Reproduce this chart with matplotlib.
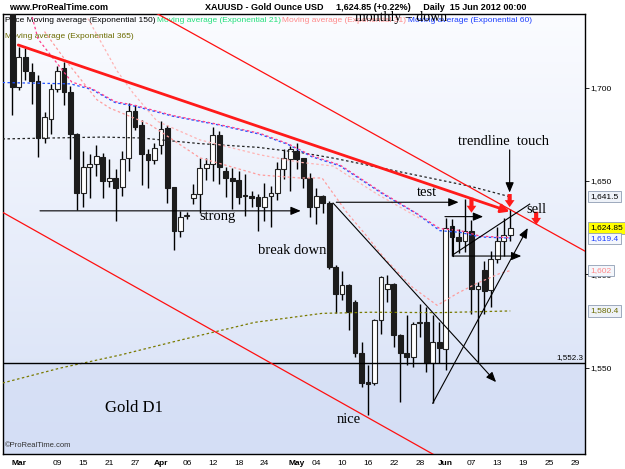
import numpy as np
import pandas as pd
import matplotlib
matplotlib.use("Agg")
import matplotlib.pyplot as plt
from matplotlib.colors import LinearSegmentedColormap

# ---------------- data ----------------
start_date = "2012-02-29"
opens  = [1785.0, 1700.2, 1716.6, 1708.2, 1703.3, 1673.1, 1683.4, 1699.4, 1710.7, 1697.9,
          1674.9, 1643.8, 1657.5, 1658.9, 1663.0, 1650.0, 1651.8, 1646.5, 1662.1, 1687.7,
          1680.2, 1664.2, 1661.0, 1669.2, 1678.4, 1646.8, 1623.4, 1631.2, 1640.8, 1642.9,
          1657.1, 1658.9, 1674.5, 1655.3, 1651.4, 1650.4, 1642.3, 1642.0, 1641.5, 1636.2,
          1642.0, 1643.3, 1656.2, 1661.6, 1666.3, 1662.1, 1651.8, 1635.8, 1642.0, 1638.0,
          1603.8, 1589.3, 1594.1, 1585.2, 1558.0, 1542.2, 1541.7, 1575.4, 1592.3, 1594.6,
          1567.4, 1558.0, 1555.9, 1573.7, 1574.5, 1552.7, 1563.9, 1559.8, 1626.0, 1619.8,
          1617.7, 1623.0, 1592.3, 1602.4, 1591.4, 1608.3, 1617.7, 1621.2]
highs  = [1790.0, 1721.9, 1721.4, 1713.0, 1706.8, 1686.8, 1701.8, 1711.3, 1713.9, 1700.6,
          1675.5, 1666.3, 1664.5, 1669.0, 1664.8, 1661.5, 1656.2, 1666.0, 1691.7, 1690.8,
          1682.9, 1667.0, 1670.4, 1682.0, 1680.2, 1647.0, 1633.7, 1633.5, 1648.2, 1662.4,
          1662.4, 1678.8, 1676.6, 1657.5, 1656.8, 1655.3, 1653.6, 1644.7, 1643.0, 1649.1,
          1647.3, 1660.3, 1666.9, 1668.6, 1670.4, 1662.5, 1654.4, 1646.4, 1642.5, 1639.3,
          1605.2, 1602.0, 1595.0, 1586.0, 1563.9, 1551.4, 1576.0, 1599.0, 1599.4, 1595.5,
          1568.0, 1578.2, 1574.5, 1584.3, 1582.5, 1578.1, 1574.5, 1630.4, 1629.6, 1624.4,
          1640.2, 1629.0, 1595.8, 1607.4, 1612.7, 1625.1, 1630.4, 1635.0]
lows   = [1685.5, 1698.9, 1704.2, 1691.4, 1662.8, 1670.4, 1675.2, 1697.5, 1690.8, 1661.6,
          1634.4, 1636.1, 1641.1, 1652.7, 1641.1, 1646.5, 1628.7, 1642.0, 1655.3, 1677.5,
          1648.0, 1646.4, 1658.9, 1664.2, 1638.4, 1613.0, 1619.8, 1629.5, 1637.6, 1633.1,
          1650.3, 1650.0, 1648.2, 1641.5, 1634.9, 1637.9, 1631.4, 1635.8, 1623.4, 1628.7,
          1625.1, 1640.0, 1650.9, 1644.7, 1656.2, 1646.4, 1630.8, 1626.9, 1632.6, 1603.0,
          1579.3, 1586.1, 1570.1, 1555.9, 1539.9, 1524.8, 1541.0, 1568.3, 1585.2, 1561.2,
          1531.9, 1551.4, 1550.5, 1566.5, 1547.9, 1531.0, 1552.3, 1548.8, 1610.0, 1611.6,
          1612.0, 1579.0, 1553.2, 1579.0, 1582.5, 1605.9, 1610.0, 1618.0]
closes = [1700.2, 1716.6, 1709.0, 1703.3, 1673.1, 1684.1, 1699.4, 1709.0, 1697.9, 1674.9,
          1643.8, 1657.5, 1659.2, 1663.1, 1650.0, 1651.8, 1646.1, 1661.6, 1687.7, 1679.1,
          1664.2, 1661.0, 1667.4, 1678.0, 1646.4, 1623.4, 1630.8, 1631.6, 1642.9, 1657.0,
          1659.2, 1674.5, 1657.5, 1651.4, 1650.0, 1641.5, 1641.8, 1641.0, 1636.7, 1641.5,
          1643.8, 1656.2, 1662.4, 1666.9, 1661.6, 1651.8, 1635.8, 1642.0, 1638.4, 1603.8,
          1589.3, 1594.1, 1579.8, 1558.0, 1541.7, 1541.2, 1575.4, 1598.5, 1594.6, 1567.4,
          1558.0, 1555.9, 1573.3, 1574.5, 1552.7, 1563.9, 1560.4, 1624.8, 1619.8, 1618.0,
          1623.0, 1592.3, 1593.5, 1591.0, 1608.3, 1618.0, 1621.2, 1624.85]

# moving averages (bar index, value)
ema150_idx = [-1.5, 6, 14, 20, 29, 38, 45, 50, 57, 64, 71, 77]
ema150_val = [1672.5, 1673.0, 1673.5, 1673.0, 1670.0, 1668.0, 1665.0, 1662.0, 1657.0, 1652.0, 1647.0, 1641.5]
ema60_idx = [-1.5, 9, 12.3, 15.9, 19, 24.9, 31.6, 38.3, 42.6, 46.3, 50.7, 57.3, 62.6, 66.1, 69.2, 72.3, 77]
ema60_val = [1702.7, 1702.0, 1699.0, 1692.0, 1690.0, 1684.6, 1680.2, 1675.0, 1669.6, 1663.0, 1658.0,
             1643.0, 1632.3, 1623.4, 1622.5, 1620.0, 1619.4]
ema31_idx = [3.0, 4.0, 9.2, 12.3, 15.9, 19, 24.9, 31.6, 38.3, 42.6, 46.3, 50.7, 57.3, 62.6, 66.1, 69.2, 72.3, 77]
ema31_val = [1739.0, 1726.0, 1703.0, 1699.5, 1692.5, 1690.5, 1685.0, 1680.5, 1675.5, 1670.0, 1663.5, 1658.5,
             1643.5, 1632.5, 1624.5, 1623.5, 1620.5, 1619.6]
ema21_idx = [5.0, 8.2, 13.1, 15.1, 21.3, 29.0, 38.3, 44.5, 47.9, 51.9, 54.5, 57.6, 61.9, 65.7, 68.8, 71.8, 75.4, 77]
ema21_val = [1730.0, 1714.8, 1693.5, 1689.0, 1680.2, 1662.4, 1653.2, 1651.6, 1651.6, 1632.4, 1621.8, 1608.4,
             1593.0, 1583.4, 1589.8, 1595.1, 1600.5, 1602.0]
ema21b_idx = [11.7, 16.2, 18.7, 22.4, 29.0, 38.3, 44.5, 49.6, 56.4, 63.0]
ema21b_val = [1737.0, 1709.0, 1697.0, 1682.0, 1672.0, 1664.0, 1660.0, 1658.0, 1643.0, 1630.0]
ema365_idx = [-1.5, 7.4, 16.7, 26.0, 37.5, 47.9, 55.3, 66.1, 77]
ema365_val = [1541.8, 1549.8, 1556.8, 1564.8, 1574.3, 1579.1, 1579.7, 1579.5, 1580.4]

support_level = 1552.3
last_values = [("1,641.5", 1641.5, "black", "#eef2f8"),
               ("1,624.85", 1624.85, "black", "#ffff00"),
               ("1,619.4", 1619.4, "#1a3cff", "#f4f7fc"),
               ("1,602", 1602.0, "#ff8a8a", "#f4f7fc"),
               ("1,580.4", 1580.4, "#6b6b00", "#eef2f8")]
tick_dates = ["2012-03-01", "2012-03-09", "2012-03-15", "2012-03-21", "2012-03-27", "2012-04-02",
              "2012-04-06", "2012-04-12", "2012-04-18", "2012-04-24", "2012-05-01", "2012-05-04",
              "2012-05-10", "2012-05-16", "2012-05-22", "2012-05-28", "2012-06-01", "2012-06-07",
              "2012-06-13", "2012-06-19", "2012-06-25", "2012-06-29"]
tick_texts = ["Mar", "09", "15", "21", "27", "Apr", "06", "12", "18", "24", "May", "04",
              "10", "16", "22", "28", "Jun", "07", "13", "19", "25", "29"]
y_ticks = [1550, 1600, 1650, 1700]

# ---------------- figure ----------------
SANS = ["Liberation Sans", "DejaVu Sans"]
SERIF = ["Liberation Serif", "DejaVu Serif"]
W, H = 625, 469
fig = plt.figure(figsize=(W / 100, H / 100), dpi=100)
fig.patch.set_facecolor("white")
ax = fig.add_axes([3 / W, (H - 454) / H, 582 / W, 440 / H])

dates = pd.bdate_range(start_date, "2012-06-29")
n = len(opens)
xs = np.arange(n)
XMIN, XMAX = -1.42, 88.55
YMIN, YMAX = 1503.8, 1739.4
ax.set_xlim(XMIN, XMAX)
ax.set_ylim(YMIN, YMAX)

# background gradient
cmap = LinearSegmentedColormap.from_list("bg", ["#d6e0f6", "#fbfcff"])
grad = np.linspace(0, 1, 256).reshape(-1, 1)
ax.imshow(grad, extent=[XMIN, XMAX, YMIN, YMAX], origin="lower", aspect="auto", cmap=cmap, zorder=0)
ax.fill_between([XMIN, XMAX], YMIN, support_level, color="#d3ddf5", alpha=0.55, zorder=0.5, lw=0)

# legend texts (drawn beneath the candles, as in the reference)
leg_y = 1 - 21 / H
legend_items = [(5, leg_y, "Price Moving average (Exponential 150)", "black"),
                (157, leg_y, "Moving average (Exponential 21)", "#22e07a"),
                (282, leg_y, "Moving average (Exponential 31)", "#ff8a8a"),
                (408, leg_y, "Moving average (Exponential 60)", "#1a3cff"),
                (5, 1 - 36 / H, "Moving average (Exponential 365)", "#6b6b00")]
for lx, ly, lt, lc in legend_items:
    ax.text(lx / W, ly, lt, transform=fig.transFigure, fontsize=6, family=SANS, color=lc,
            va="center", ha="left", zorder=2, clip_on=False)

# candles
o = np.array(opens); c = np.array(closes); h = np.array(highs); l = np.array(lows)
up = c >= o
ax.vlines(xs, l, h, color="black", lw=1.0, zorder=3)
body_lo = np.minimum(o, c)
body_h = np.maximum(np.abs(c - o), 0.6)
ax.bar(xs[up], body_h[up], bottom=body_lo[up], width=0.74, color="white", edgecolor="#222222", lw=0.8, zorder=3.2)
ax.bar(xs[~up], body_h[~up], bottom=body_lo[~up], width=0.74, color="#1c1c1c", edgecolor="#1c1c1c", lw=0.8, zorder=3.2)

# moving averages
ax.plot(ema365_idx, ema365_val, color="#7a7a00", lw=0.9, ls=(0, (2, 2)), zorder=4)
ax.plot(ema150_idx, ema150_val, color="#222222", lw=0.9, ls=(0, (2, 2)), zorder=4)
ax.plot(ema21b_idx, ema21b_val, color="#ffb3b3", lw=0.9, ls=(0, (2, 2)), zorder=4)
ax.plot(ema21_idx, ema21_val, color="#ff9c9c", lw=0.9, ls=(0, (2, 2)), zorder=4)
ax.plot(ema60_idx, ema60_val, color="#2050ff", lw=0.9, ls=(0, (2, 2)), zorder=4)
ax.plot(ema31_idx, ema31_val, color="#ff3d8a", lw=0.9, ls=(2, (2, 2)), zorder=4.1)

# support line
ax.axhline(support_level, color="black", lw=1.0, zorder=4.5)
ax.text(XMAX - 0.3, support_level + 1.2, "1,552.3", ha="right", va="bottom", fontsize=5.8,
        family=SANS, zorder=6)

# red trend lines
ax.plot([-1.886, 66.9], [1634.0, 1500.1], color="#ff1010", lw=0.9, zorder=5)
ax.plot([21.3, 90.9], [1741.7, 1607.9], color="#ff1010", lw=0.9, zorder=5)
ax.annotate("", xy=(76.9, 1633.6), xytext=(0.94, 1722.8),
            arrowprops=dict(arrowstyle="-|>,head_length=0.5,head_width=0.25", color="#ff1a1a", lw=2.0,
                            shrinkA=0, shrinkB=0), zorder=5)

def arrow(x0, y0, x1, y1, col="black", lw=0.8):
    ax.annotate("", xy=(x1, y1), xytext=(x0, y0),
                arrowprops=dict(arrowstyle="-|>,head_length=0.6,head_width=0.25", color=col, lw=lw,
                                shrinkA=0, shrinkB=0), zorder=6)

def red_down(x, ytop, ybot):
    ax.annotate("", xy=(x, ybot), xytext=(x, ytop),
                arrowprops=dict(arrowstyle="simple,head_length=0.5,head_width=0.7,tail_width=0.3",
                                color="#ff1a1a", lw=0, shrinkA=0, shrinkB=0), zorder=6)

# black annotations
arrow(4.3, 1634.0, 44.6, 1634.0)
arrow(49.6, 1638.2, 74.8, 1542.3)
arrow(50.1, 1638.6, 69.0, 1638.6)
arrow(76.9, 1666.6, 76.9, 1643.8)
arrow(66.9, 1630.9, 72.8, 1630.9)
ax.plot([68.1, 68.1], [1625.9, 1609.8], color="black", lw=0.8, zorder=6)
arrow(68.1, 1609.8, 78.7, 1609.8)
ax.plot([68.1, 80.0], [1610.4, 1637.6], color="black", lw=0.8, zorder=6)
arrow(65.0, 1530.9, 79.7, 1624.8)
red_down(71.0, 1641.0, 1633.0)
red_down(76.9, 1643.0, 1636.0)
red_down(81.0, 1633.5, 1626.5)

ax.text(29.0, 1630.8, "strong", family=SERIF, fontsize=10.5, va="center", ha="left", zorder=7)
ax.text(38.0, 1612.5, "break down", family=SERIF, fontsize=10.5, va="center", ha="left", zorder=7)
ax.text(64.1, 1643.8, "test", family=SERIF, fontsize=10.5, va="center", ha="center", zorder=7)
ax.text(76.0, 1671.0, "trendline  touch", family=SERIF, fontsize=10.5, va="center", ha="center", zorder=7)
ax.text(81.1, 1634.8, "sell", family=SERIF, fontsize=10.5, va="center", ha="center", zorder=7)
ax.text(52.1, 1522.5, "nice", family=SERIF, fontsize=10.5, va="center", ha="center", zorder=7)
ax.text(18.8, 1528.4, "Gold D1", family=SERIF, fontsize=12, va="center", ha="center", zorder=7)
ax.text(0.004, 0.012, "©ProRealTime.com", transform=ax.transAxes, fontsize=5.5, family=SANS,
        color="#333333", va="bottom", ha="left", zorder=7)

# axes styling
for s in ax.spines.values():
    s.set_color("black"); s.set_linewidth(1.0)
tick_pos = [dates.get_loc(pd.Timestamp(d)) for d in tick_dates]
ax.set_xticks(tick_pos)
ax.set_xticklabels(tick_texts)
for lab, t in zip(ax.get_xticklabels(), tick_texts):
    lab.set_family(SANS); lab.set_fontsize(6)
    if not t.isdigit():
        lab.set_fontweight("bold")
ax.tick_params(axis="x", length=0, pad=4)
ax.yaxis.tick_right()
ax.set_yticks(y_ticks)
ax.set_yticklabels([f"{v:,}" for v in y_ticks])
ax.tick_params(axis="y", length=3, width=0.6, pad=1, labelsize=6)
for lab in ax.get_yticklabels():
    lab.set_family(SANS)

for txt, val, tc, bg in last_values:
    ax.annotate(txt, xy=(1.0, val), xycoords=("axes fraction", "data"), xytext=(4, 0),
                textcoords="offset points", fontsize=6, family=SANS, color=tc, va="center", ha="left",
                bbox=dict(boxstyle="square,pad=0.25", fc=bg, ec="#8f9db3", lw=0.6), zorder=8,
                annotation_clip=False)

# header
fig.text(9 / W, 1 - 7 / H, "www.ProRealTime.com", fontsize=6.5, fontweight="bold", family=SANS, va="center")
fig.text(205 / W, 1 - 7 / H, "XAUUSD - Gold Ounce USD     1,624.85 (+0.22%)     Daily  15 Jun 2012 00:00",
         fontsize=6.5, fontweight="bold", family=SANS, va="center")
fig.text(401 / W, 1 - 17 / H, "monthly = down", fontsize=10, family=SERIF, ha="center", va="center")

fig.savefig("out.png", dpi=100)
